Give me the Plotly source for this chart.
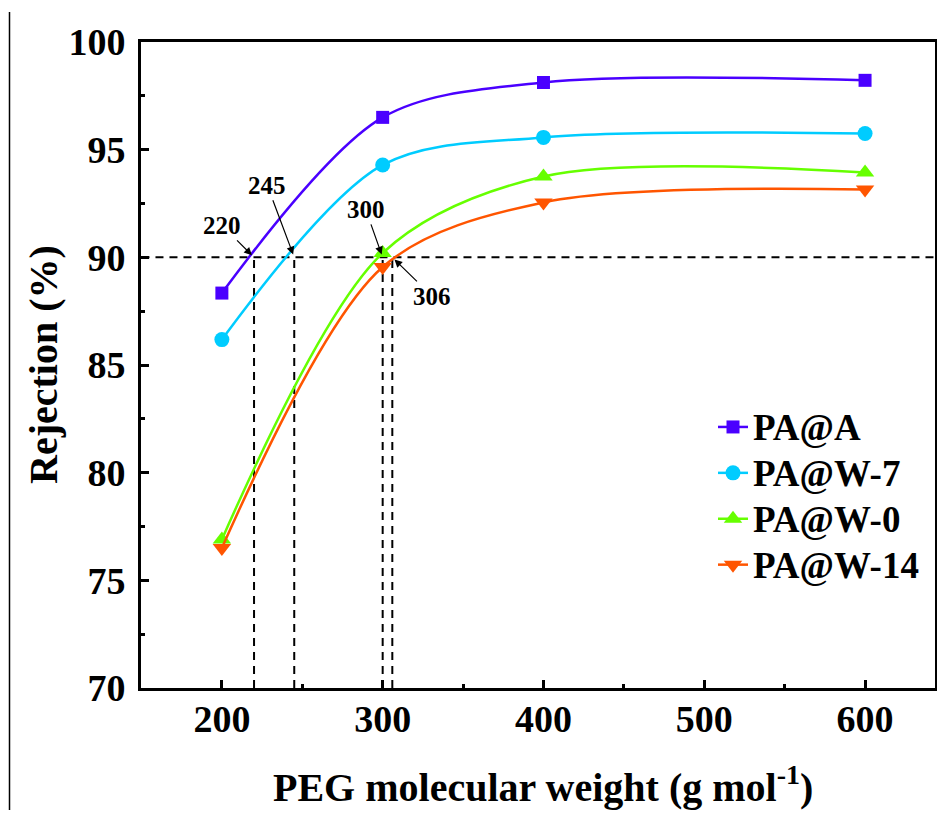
import plotly.graph_objects as go

peg_mw = [200, 300, 400, 600]
series_names = ["PA@A", "PA@W-7", "PA@W-0", "PA@W-14"]
pa_a = [88.34, 96.5, 98.12, 98.22]
pa_w7 = [86.18, 94.29, 95.57, 95.75]
pa_w0 = [76.9, 90.2, 93.75, 93.94]
pa_w14 = [76.5, 89.55, 92.55, 93.15]
series_values = [pa_a, pa_w7, pa_w0, pa_w14]

colors = ["#4A00FF", "#00CCFF", "#66FF00", "#FF5500"]
symbols = ["square", "circle", "triangle-up", "triangle-down"]
msizes = [13, 15, 16, 16]

threshold = 90
cutoff_mw = [220, 245, 300, 306]
cutoff_labels = ["220", "245", "300", "306"]
label_offsets = [(-32, -32), (-27, -72), (-17, -48), (40, 39)]

x_ticks = [200, 300, 400, 500, 600]
y_ticks = [70, 75, 80, 85, 90, 95, 100]

FONT = "Liberation Serif"

# the page body has an 8px margin: figure is sized so the plot lands where the reference has it
W, H = 929, 802
ML, MT, MR, MB = 133, 34, 2, 122
PW, PH = W - ML - MR, H - MT - MB


def px_x(v):  # viewport x pixel -> paper coordinate
    return (v - 141) / PW


def px_y(v):  # viewport y pixel -> paper coordinate
    return (688 - v) / PH


fig = go.Figure()
for i, (name, vals) in enumerate(zip(series_names, series_values)):
    fig.add_trace(go.Scatter(
        x=peg_mw, y=vals, name=f"<span style='font-size:37px'>{name}</span>", mode="lines+markers",
        line=dict(color=colors[i], width=2.5, shape="spline", smoothing=0.9),
        marker=dict(symbol=symbols[i], size=msizes[i], color=colors[i]),
        legendgroup=name,
    ))

shapes = []
shapes.append(dict(type="line", xref="x", yref="y", x0=150, x1=650, y0=threshold, y1=threshold,
                   line=dict(color="black", width=2, dash="8px,6px"), layer="below"))
for xv in cutoff_mw:
    shapes.append(dict(type="line", xref="x", yref="y", x0=xv, x1=xv, y0=70, y1=threshold,
                       line=dict(color="black", width=2, dash="8px,6px"), layer="below"))
# left border line of the original figure
shapes.append(dict(type="line", xref="paper", yref="paper", x0=px_x(9.5), x1=px_x(9.5),
                   y0=px_y(818), y1=px_y(12), line=dict(color="black", width=1.5)))

annotations = []
for xv, lab, (ax, ay) in zip(cutoff_mw, cutoff_labels, label_offsets):
    annotations.append(dict(x=xv, y=threshold, xref="x", yref="y", text=lab,
                            showarrow=True, arrowhead=2, arrowsize=1.3, arrowwidth=1.2,
                            arrowcolor="black", ax=ax, ay=ay, standoff=3,
                            font=dict(family=FONT, size=25, color="black", weight="bold")))
annotations.append(dict(x=px_x(43), y=0.5, xref="paper", yref="paper", xanchor="center", yanchor="middle",
                        text="Rejection (%)", showarrow=False, textangle=-90,
                        font=dict(family=FONT, size=40, color="black", weight="bold")))
annotations.append(dict(x=px_x(543), y=px_y(812), xref="paper", yref="paper", xanchor="center", yanchor="bottom",
                        text="PEG molecular weight (g mol<sup>-1</sup>)", showarrow=False,
                        font=dict(family=FONT, size=40, color="black", weight="bold")))

tickfont = dict(family=FONT, size=38, color="black", weight="bold")

fig.update_layout(
    width=W, height=H,
    margin=dict(l=ML, r=MR, t=MT, b=MB, autoexpand=False),
    plot_bgcolor="white", paper_bgcolor="white",
    font=dict(family=FONT, color="black"),
    shapes=shapes, annotations=annotations,
    legend=dict(x=px_x(713), y=px_y(399), xanchor="left", yanchor="top",
                font=dict(family=FONT, size=33, color="black", weight="bold"),
                bgcolor="rgba(0,0,0,0)", tracegroupgap=0, itemwidth=30),
    xaxis=dict(range=[149.7, 643.5], tickvals=x_ticks, automargin=False,
               ticks="inside", ticklen=8, tickwidth=3, tickcolor="black",
               showline=True, linewidth=3, linecolor="black", mirror=True, showgrid=False, zeroline=False,
               tickfont=tickfont, ticklabelstandoff=-5,
               minor=dict(tickvals=[250, 350, 450, 550], ticks="inside", ticklen=4, tickwidth=3, tickcolor="black")),
    yaxis=dict(range=[70, 100], tickvals=y_ticks, automargin=False,
               ticks="inside", ticklen=8, tickwidth=3, tickcolor="black",
               showline=True, linewidth=3, linecolor="black", mirror=True, showgrid=False, zeroline=False,
               tickfont=tickfont, ticklabelstandoff=5,
               minor=dict(tickvals=[72.5, 77.5, 82.5, 87.5, 92.5, 97.5], ticks="inside", ticklen=4, tickwidth=3, tickcolor="black")),
)

fig.write_html("out.html")
